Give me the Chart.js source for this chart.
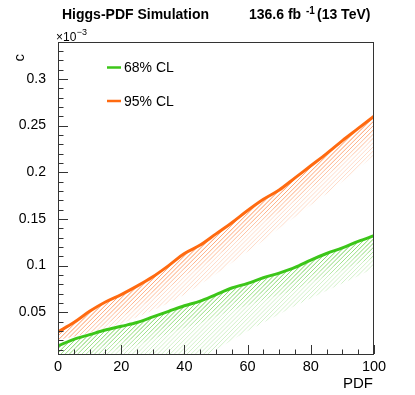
<!DOCTYPE html>
<html lang="en">
<head>
<meta charset="UTF-8">
<title>Higgs-PDF Simulation</title>
<script src="https://cdn.jsdelivr.net/npm/chart.js"></script>
<style>
  html, body { margin: 0; padding: 0; background: #fff; }
</style>
</head>
<body>
<canvas id="chart" width="415" height="395"></canvas>
<script>
// values (y in units of 10^-3)
const pdf = [0, 5, 10, 15, 20, 25, 30, 35, 40, 45, 50, 55, 60, 65, 70, 75, 80, 85, 90, 95, 100]
const cl68 = [0.014, 0.021, 0.026, 0.031, 0.035, 0.039, 0.045, 0.051, 0.057, 0.062, 0.069, 0.076, 0.081, 0.087, 0.092, 0.098, 0.106, 0.113, 0.119, 0.126, 0.132]
const cl95 = [0.029, 0.039, 0.051, 0.061, 0.069, 0.078, 0.088, 0.100, 0.113, 0.122, 0.134, 0.146, 0.159, 0.171, 0.181, 0.194, 0.207, 0.220, 0.234, 0.247, 0.260]
// lower edges of the hatched bands
const cl68Low = [0, 0, 0, 0, 0, 0, 0, 0, 0, 0, 0.010, 0.020, 0.030, 0.039, 0.048, 0.057, 0.065, 0.073, 0.081, 0.089, 0.0975]
const cl95Low = [0.020, 0.024, 0.028, 0.033, 0.038, 0.045, 0.052, 0.060, 0.069, 0.080, 0.091, 0.103, 0.115, 0.127, 0.140, 0.152, 0.165, 0.177, 0.190, 0.204, 0.218]
const xTicksMajor = [0, 20, 40, 60, 80, 100]
const yTicksMajor = [0.05, 0.1, 0.15, 0.2, 0.25, 0.3]

const green = '#3cc619'
const orange = '#ff6a10'
const font = "'Liberation Sans', Arial, Helvetica, sans-serif"
Chart.defaults.font.family = font
Chart.defaults.color = '#000'

function pts(ys) { return pdf.map((x, i) => ({x: x, y: ys[i]})) }
function isMajor(v, list) { return list.some(m => Math.abs(m - v) < 1e-6) }

// hatched bands: upper line dataset, lower edge dataset, hatch rgb
const bands = [
    {upper: 1, lower: 3, rgb: '255,140,80'},
    {upper: 0, lower: 2, rgb: '110,210,80'}
]

// ROOT-ish hatch, denser close to the line and fading away from it
const hatchBands = {
    id: 'hatchBands',
    beforeDatasetsDraw(chart) {
        let {ctx, chartArea: a} = chart
        let H = a.bottom - a.top
        bands.forEach(b => {
            let up = chart.getDatasetMeta(b.upper).dataset
            let lo = chart.getDatasetMeta(b.lower).dataset
            ;[0, 22, 15, 8].forEach(d => {
                ctx.save()
                ctx.beginPath()
                ctx.rect(a.left, a.top, a.right - a.left, a.bottom - a.top)
                ctx.clip()
                // under the line
                ctx.beginPath()
                up.path(ctx)
                ctx.lineTo(a.right + 5, a.bottom + 50)
                ctx.lineTo(a.left - 5, a.bottom + 50)
                ctx.closePath()
                ctx.clip()
                // over the lower edge
                ctx.beginPath()
                lo.path(ctx)
                ctx.lineTo(a.right + 5, a.top - 50)
                ctx.lineTo(a.left - 5, a.top - 50)
                ctx.closePath()
                ctx.clip()
                // only within d px of the line (d = 0 -> whole band)
                if (d > 0) {
                    ctx.translate(0, d)
                    ctx.beginPath()
                    up.path(ctx)
                    ctx.lineTo(a.right + 5, a.top - 50 - d)
                    ctx.lineTo(a.left - 5, a.top - 50 - d)
                    ctx.closePath()
                    ctx.translate(0, -d)
                    ctx.clip()
                }
                ctx.strokeStyle = 'rgba(' + b.rgb + ',0.3)'
                ctx.lineWidth = 1
                ctx.beginPath()
                for (let s = a.left - H; s < a.right; s += 4.2) {
                    ctx.moveTo(s, a.bottom)
                    ctx.lineTo(s + H, a.top)
                }
                ctx.stroke()
                ctx.restore()
            })
        })
    }
}

// frame, inward ticks, titles, legend
const rootStyle = {
    id: 'rootStyle',
    afterDraw(chart) {
        let {ctx, chartArea: a, scales} = chart
        let x = scales.x, y = scales.y
        ctx.save()
        ctx.strokeStyle = '#333'
        ctx.lineWidth = 1
        ctx.strokeRect(a.left + 0.5, a.top + 0.5, a.right - a.left - 1, a.bottom - a.top)
        ctx.beginPath()
        x.ticks.forEach(t => {
            let px = Math.round(x.getPixelForValue(t.value)) + 0.5
            let len = isMajor(t.value, xTicksMajor) ? 9 : 4.5
            ctx.moveTo(px, a.bottom); ctx.lineTo(px, a.bottom - len)
        })
        y.ticks.forEach(t => {
            let py = Math.round(y.getPixelForValue(t.value)) + 0.5
            let len = isMajor(t.value, yTicksMajor) ? 10 : 5.5
            ctx.moveTo(a.left, py); ctx.lineTo(a.left + len, py)
        })
        ctx.stroke()

        ctx.fillStyle = '#000'
        ctx.textBaseline = 'alphabetic'
        ctx.textAlign = 'left'
        // header
        ctx.font = 'bold 14px ' + font
        ctx.fillText('Higgs-PDF Simulation', 62, 19)
        ctx.fillText('136.6 fb', 249, 19)
        ctx.font = 'bold 10px ' + font
        ctx.fillText('-1', 306, 14)
        ctx.font = 'bold 14px ' + font
        ctx.fillText('(13 TeV)', 317, 19)
        // exponent
        ctx.font = '12px ' + font
        ctx.fillText('\u00d710', 56, 41)
        let w = ctx.measureText('\u00d710').width
        ctx.font = '9px ' + font
        ctx.fillText('\u22123', 56 + w + 0.5, 35)
        // axis titles
        ctx.font = '15px ' + font
        ctx.textAlign = 'right'
        ctx.fillText('PDF', 373, 388)
        ctx.save()
        ctx.translate(24, 54)
        ctx.rotate(-Math.PI / 2)
        ctx.fillText('c', 0, 0)
        ctx.restore()
        // legend
        ctx.font = '14px ' + font
        ctx.textAlign = 'left'
        ctx.textBaseline = 'middle'
        ;[[green, '68% CL', 67.5], [orange, '95% CL', 101]].forEach(([col, txt, ly]) => {
            ctx.strokeStyle = col
            ctx.lineWidth = 2.5
            ctx.beginPath()
            ctx.moveTo(107, ly); ctx.lineTo(121, ly)
            ctx.stroke()
            ctx.fillText(txt, 124, ly + 1)
        })
        ctx.restore()
    }
}

const chart = new Chart(document.getElementById('chart'), {
    type: 'line',
    data: {
        datasets: [
            {label: '68% CL', data: pts(cl68), borderColor: green, borderWidth: 3, fill: false},
            {label: '95% CL', data: pts(cl95), borderColor: orange, borderWidth: 3, fill: false},
            {label: '68% low', data: pts(cl68Low), borderWidth: 0, borderColor: 'rgba(0,0,0,0)', fill: false},
            {label: '95% low', data: pts(cl95Low), borderWidth: 0, borderColor: 'rgba(0,0,0,0)', fill: false}
        ]
    },
    options: {
        responsive: false,
        animation: false,
        layout: {padding: {top: 42, right: 41, left: 0, bottom: 0}},
        elements: {point: {radius: 0}, line: {cubicInterpolationMode: 'monotone'}},
        plugins: {legend: {display: false}, title: {display: false}, tooltip: {enabled: false}},
        scales: {
            x: {
                type: 'linear', min: 0, max: 100,
                grid: {display: false}, border: {display: false},
                ticks: {
                    stepSize: 5, autoSkip: false, maxRotation: 0, padding: -4,
                    font: {size: 14.5},
                    callback: v => isMajor(v, xTicksMajor) ? String(v) : ''
                },
                afterFit: s => { s.height = 41 }
            },
            y: {
                min: 0.0053, max: 0.3396,
                grid: {display: false}, border: {display: false},
                ticks: {
                    stepSize: 0.01, includeBounds: false, autoSkip: false, padding: 4,
                    font: {size: 14},
                    callback: v => isMajor(v, yTicksMajor) ? String(Math.round(v * 100) / 100) : ''
                },
                afterFit: s => { s.width = 58 }
            }
        }
    },
    plugins: [hatchBands, rootStyle]
})
</script>
</body>
</html>
